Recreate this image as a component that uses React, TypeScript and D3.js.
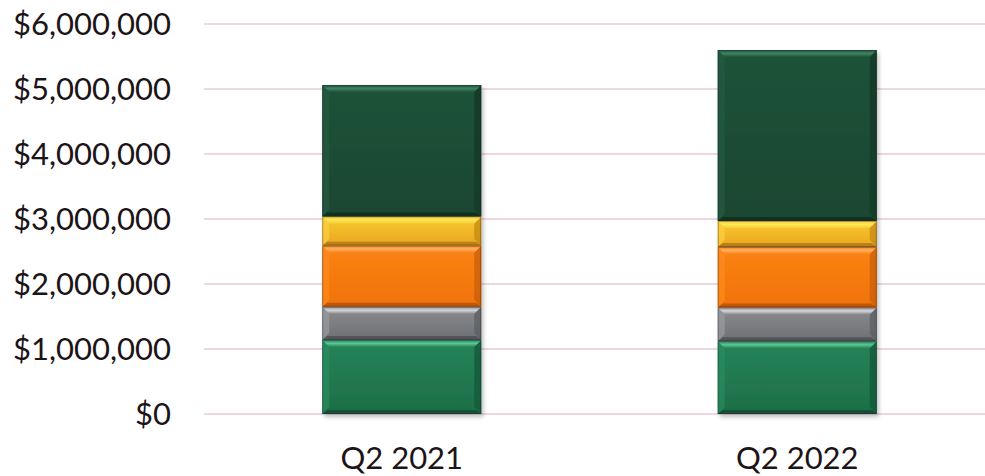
import React from "react";
import * as d3 from "d3";

const categories = ["Q2 2021", "Q2 2022"];
const seriesNames = ["Green", "Gray", "Orange", "Yellow", "Dark Green"];
const greenValues = [1140000, 1120000];
const grayValues = [510000, 520000];
const orangeValues = [940000, 930000];
const yellowValues = [450000, 400000];
const darkGreenValues = [2020000, 2630000];
const yTicks = [0, 1000000, 2000000, 3000000, 4000000, 5000000, 6000000];

const palettes = [
  { top: "#5cc894", body1: "#268458", body2: "#1d6e48", bottom: "#134a30", left: "#2b8c5f", right: "#175a3b" },
  { top: "#d4d6da", body1: "#8a8c90", body2: "#6e7074", bottom: "#4e5054", left: "#9a9ca0", right: "#5e6064" },
  { top: "#ffb060", body1: "#fb8314", body2: "#f07208", bottom: "#b85406", left: "#ff8a20", right: "#cc6006" },
  { top: "#ffe85a", body1: "#f8cc30", body2: "#eaa420", bottom: "#b07a10", left: "#fbd040", right: "#c88c14" },
  { top: "#3f8363", body1: "#1f5339", body2: "#1a4631", bottom: "#10301f", left: "#235a3f", right: "#143a27" },
];

export default function App() {
  const W = 985;
  const H = 476;
  const y = d3.scaleLinear().domain([0, 6000000]).range([414, 24]);
  const x = d3.scaleBand<string>().domain(categories).range([204, 995]).paddingInner(0.598).paddingOuter(0.299);
  const rows = categories.map((c, i) => ({
    cat: c,
    Green: greenValues[i],
    Gray: grayValues[i],
    Orange: orangeValues[i],
    Yellow: yellowValues[i],
    "Dark Green": darkGreenValues[i],
  }));
  const stack = d3.stack<any>().keys(seriesNames)(rows);
  const fmt = (v: number) => "$" + d3.format(",")(v);
  const bw = x.bandwidth();
  const b = 7;

  return (
    <svg width={W} height={H} style={{ position: "absolute", left: 0, top: 0, background: "#fff" }}>
      <defs>
        {palettes.map((p, i) => (
          <linearGradient key={i} id={"body" + i} x1="0" y1="0" x2="0" y2="1">
            <stop offset="0" stopColor={p.body1} />
            <stop offset="1" stopColor={p.body2} />
          </linearGradient>
        ))}
        {palettes.map((p, i) => (
          <linearGradient key={"t" + i} id={"top" + i} x1="0" y1="0" x2="0" y2="1">
            <stop offset="0" stopColor={p.body1} />
            <stop offset="0.5" stopColor={p.top} />
            <stop offset="1" stopColor={p.body1} />
          </linearGradient>
        ))}
        <filter id="shadow" x="-10%" y="-10%" width="130%" height="130%">
          <feGaussianBlur in="SourceAlpha" stdDeviation="2" />
          <feOffset dx="2" dy="3" result="o" />
          <feComponentTransfer>
            <feFuncA type="linear" slope="0.25" />
          </feComponentTransfer>
          <feMerge>
            <feMergeNode />
            <feMergeNode in="SourceGraphic" />
          </feMerge>
        </filter>
      </defs>
      {yTicks.map((t) => (
        <line key={t} x1={204} x2={W} y1={y(t)} y2={y(t)} stroke="#eed6e2" strokeWidth={2} />
      ))}
      {yTicks.map((t) => (
        <text
          key={"l" + t}
          x={171}
          y={y(t)}
          dy="0.36em"
          textAnchor="end"
          fontFamily="Lato"
          fontSize={31}
          fill="#1d1418"
        >
          {fmt(t)}
        </text>
      ))}
      {categories.map((c) => (
        <g key={c} filter="url(#shadow)">
          {stack.map((s, si) => {
            const d = s.find((e: any) => e.data.cat === c)!;
            const x0 = x(c)!;
            const y0 = y(d[1]);
            const y1 = y(d[0]);
            const h = y1 - y0;
            const p = palettes[si];
            const x1 = x0 + bw;
            return (
              <g key={s.key}>
                <rect x={x0} y={y0} width={bw} height={h} fill={`url(#body${si})`} />
                <polygon points={`${x0},${y0} ${x0 + b},${y0 + b} ${x0 + b},${y1 - b} ${x0},${y1}`} fill={p.left} opacity={0.7} />
                <polygon points={`${x1},${y0} ${x1 - b},${y0 + b} ${x1 - b},${y1 - b} ${x1},${y1}`} fill={p.right} opacity={0.8} />
                <polygon points={`${x0},${y0} ${x1},${y0} ${x1 - b},${y0 + b} ${x0 + b},${y0 + b}`} fill={`url(#top${si})`} />
                <polygon points={`${x0},${y1} ${x1},${y1} ${x1 - b + 2},${y1 - b + 3} ${x0 + b - 2},${y1 - b + 3}`} fill={p.bottom} opacity={0.85} />
                <rect x={x0 + 0.5} y={y0 + 0.5} width={bw - 1} height={h - 1} fill="none" stroke="rgba(30,30,50,0.35)" strokeWidth={1} />
              </g>
            );
          })}
        </g>
      ))}
      {categories.map((c) => (
        <text
          key={"x" + c}
          x={x(c)! + bw / 2}
          y={469}
          textAnchor="middle"
          fontFamily="Lato"
          fontSize={31}
          fill="#1d1418"
        >
          {c}
        </text>
      ))}
    </svg>
  );
}
